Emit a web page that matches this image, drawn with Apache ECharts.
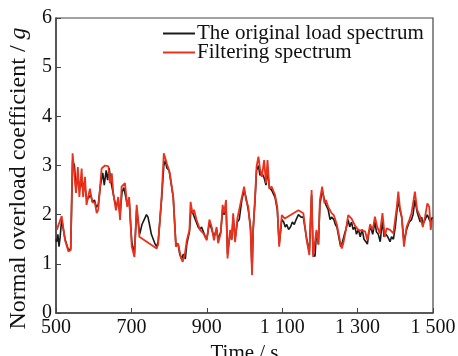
<!DOCTYPE html>
<html>
<head>
<meta charset="utf-8">
<script src="https://cdn.jsdelivr.net/npm/echarts@6/dist/echarts.min.js"></script>
<style>
  html, body { margin: 0; padding: 0; background: #fff; }
  #chart { width: 458px; height: 356px; }
</style>
</head>
<body>
<div id="chart"></div>
<script>
// original load spectrum (time s, value g)
const originalT = [500,502,505,508,511,515,520,524,533,539,544,549,553,558,562,566,570,574,578,582,587,592,597,602,607,612,618,624,628,633,637,641,645,650,655,660,665,670,675,680,684,689,694,701,708,714,718,722,728,734,740,744,748,753,758,763,767,771,780,786,790,794,800,806,811,818,824,828,833,838,843,847,854,858,862,867,872,877,882,886,891,896,900,907,913,919,926,930,937,942,946,951,955,962,966,970,975,981,986,993,999,1004,1010,1016,1020,1023,1028,1032,1037,1041,1046,1052,1057,1061,1066,1072,1081,1087,1092,1099,1104,1108,1112,1117,1122,1127,1132,1137,1143,1150,1156,1165,1172,1178,1182,1187,1191,1196,1200,1206,1212,1216,1222,1227,1231,1237,1241,1245,1250,1255,1260,1265,1269,1275,1279,1284,1288,1293,1297,1302,1307,1312,1317,1322,1326,1330,1335,1340,1346,1350,1355,1360,1366,1370,1375,1380,1386,1390,1395,1400,1404,1408,1412,1417,1423,1430,1437,1443,1447,1452,1458,1462,1466,1470,1473,1479,1485,1490,1494,1498];
const originalG = [1.5,1.45,1.6,1.35,1.55,1.9,1.9,1.5,1.28,1.3,3.1,3.0,2.5,2.8,2.5,2.7,2.55,2.65,2.5,2.3,2.35,2.4,2.25,2.3,2.15,2.2,2.6,2.85,2.6,2.9,2.7,2.95,2.7,2.5,2.3,2.15,2.3,2.0,2.45,2.55,2.4,2.2,2.3,1.45,1.2,2.1,1.85,1.6,1.8,1.9,2.0,1.95,1.8,1.6,1.5,1.4,1.35,1.45,2.3,3.0,3.1,2.95,2.9,2.6,2.35,1.4,1.4,1.2,1.1,1.2,1.1,1.4,1.65,2.1,2.05,1.95,1.85,1.75,1.7,1.75,1.65,1.55,1.5,1.85,1.7,1.55,1.7,1.5,1.65,2.1,2.0,2.2,1.2,1.65,1.5,1.95,1.5,1.85,1.9,2.3,2.5,2.35,2.1,1.75,0.85,1.7,2.3,2.9,3.0,2.8,2.85,2.75,2.6,2.9,2.55,2.5,2.35,2.1,1.4,1.9,1.85,1.75,1.8,1.7,1.75,1.85,1.8,1.9,2.0,1.95,1.95,1.5,1.25,2.4,1.2,1.15,1.65,1.4,2.2,2.5,2.3,2.2,2.1,1.9,1.95,1.9,1.8,1.75,1.55,1.35,1.45,1.6,1.7,1.9,1.75,1.85,1.7,1.75,1.6,1.7,1.55,1.7,1.5,1.45,1.4,1.65,1.75,1.6,1.85,1.65,1.6,1.45,1.9,1.55,1.6,1.55,1.45,1.55,1.5,1.75,2.05,2.3,2.1,1.95,1.45,1.7,1.85,1.9,2.0,2.3,2.05,1.95,1.85,1.95,1.8,1.9,2.0,1.9,1.85,1.95];

// filtering spectrum
const filteredT = [502,515,519,524,533,539,544,549,553,558,562,568,572,577,581,590,596,603,608,612,621,630,639,643,648,652,659,665,670,674,683,689,694,701,708,714,718,721,767,771,780,786,794,802,811,818,824,831,836,842,847,854,857,862,866,873,882,891,900,907,913,919,926,930,937,942,946,951,955,962,966,970,975,981,986,993,999,1004,1010,1016,1020,1023,1028,1032,1037,1041,1046,1052,1057,1061,1066,1072,1081,1087,1092,1099,1107,1143,1156,1165,1172,1178,1182,1187,1191,1196,1200,1206,1212,1216,1222,1231,1237,1245,1253,1258,1262,1269,1275,1284,1293,1302,1320,1326,1333,1340,1346,1352,1359,1366,1372,1377,1386,1395,1404,1408,1412,1417,1423,1430,1437,1443,1452,1458,1466,1473,1479,1485,1490,1494,1497];
const filteredG = [1.69,1.97,1.95,1.48,1.25,1.28,3.25,3.22,2.44,2.97,2.36,2.94,2.36,2.77,2.2,2.53,2.26,2.24,2.03,2.1,2.94,3.0,2.98,2.64,2.84,2.43,2.09,2.36,1.89,2.57,2.64,2.16,2.36,1.35,1.14,2.2,1.89,1.55,1.31,1.4,2.36,3.25,3.04,2.84,2.36,1.35,1.41,1.14,1.04,1.21,1.48,1.69,2.26,2.03,2.1,1.89,1.69,1.62,1.48,1.9,1.75,1.48,1.75,1.42,1.62,2.2,2.03,2.3,1.11,1.69,1.48,2.03,1.44,1.92,1.89,2.36,2.57,2.3,2.16,1.69,0.77,1.69,2.36,2.98,3.18,2.94,2.77,3.11,2.64,3.11,2.53,2.57,2.4,2.16,1.35,1.99,1.92,2.09,2.03,1.48,1.18,2.5,1.14,1.11,1.69,1.39,2.3,2.57,2.23,2.3,2.16,2.03,1.99,1.8,1.48,1.31,1.41,1.69,1.99,1.92,1.78,1.69,1.66,1.48,1.8,1.69,1.96,1.75,1.62,2.03,1.55,1.72,1.69,1.62,2.16,2.47,2.16,1.96,1.35,1.75,1.89,2.03,2.47,2.1,1.96,1.75,1.96,2.23,2.16,1.69,1.89];

const xTicks = [500, 700, 900, 1100, 1300, 1500];
const seriesNames = ['The original load spectrum', 'Filtering spectrum'];

const pair = (t, g) => t.map((v, i) => [v, g[i]]);
const serif = 'Liberation Serif, Times New Roman, serif';

let myChart = echarts.init(document.getElementById('chart'));

var option = {
    animation: false,
    textStyle: { fontFamily: serif },
    grid: {
        left: 56, right: 25, top: 18, bottom: 43,
        outerBoundsMode: 'none',
        show: true, borderColor: '#444', borderWidth: 1.2
    },
    legend: {
        orient: 'vertical',
        left: 163, top: 23,
        padding: 0,
        itemWidth: 32, itemHeight: 2, itemGap: -2,
        icon: 'rect',
        textStyle: { fontFamily: serif, fontSize: 21, color: '#111', padding: [0, 0, 0, -3] },
        data: seriesNames
    },
    xAxis: {
        type: 'value',
        min: 500, max: 1500, interval: 200,
        name: 'Time / s',
        nameLocation: 'middle',
        nameGap: 27,
        nameTextStyle: { fontFamily: serif, fontSize: 21, color: '#111' },
        axisLine: { lineStyle: { color: '#444', width: 1.5 } },
        axisTick: { inside: true, length: 5, lineStyle: { color: '#444' } },
        axisLabel: {
            fontFamily: serif, fontSize: 20, color: '#111', margin: 5,
            formatter: v => xTicks.includes(v) ? (v >= 1000 ? String(v).replace(/^(\d)(\d{3})$/, '$1 $2') : String(v)) : ''
        },
        splitLine: { show: false }
    },
    yAxis: {
        type: 'value',
        min: 0, max: 6, interval: 1,
        name: '{a|Normal overload coefficient / }{b|g}',
        nameLocation: 'middle',
        nameGap: 24,
        nameTextStyle: {
            padding: [0, 26, 0, 0],
            rich: {
                a: { fontFamily: serif, fontSize: 24, color: '#111' },
                b: { fontFamily: serif, fontSize: 24, color: '#111', fontStyle: 'italic' }
            }
        },
        axisLine: { lineStyle: { color: '#444', width: 1.5 } },
        axisTick: { inside: true, length: 5, lineStyle: { color: '#444' } },
        axisLabel: { fontFamily: serif, fontSize: 20, color: '#111', margin: 4 },
        splitLine: { show: false }
    },
    series: [
        {
            name: seriesNames[0],
            type: 'line',
            showSymbol: false,
            color: '#1a1a1a',
            lineStyle: { width: 1.6 },
            data: pair(originalT, originalG)
        },
        {
            name: seriesNames[1],
            type: 'line',
            showSymbol: false,
            color: '#e8321e',
            lineStyle: { width: 1.8 },
            data: pair(filteredT, filteredG)
        }
    ]
};

myChart.setOption(option);

window.addEventListener('resize', () => {
    myChart.resize();
});
</script>
</body>
</html>
